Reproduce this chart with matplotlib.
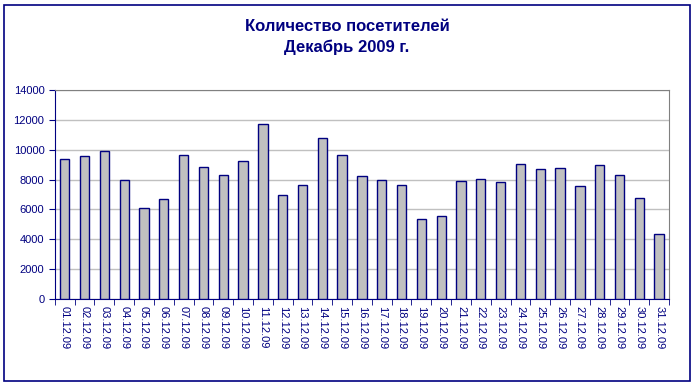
import matplotlib
matplotlib.use('Agg')
import matplotlib.pyplot as plt
import numpy as np
from matplotlib.patches import Rectangle

plt.rcParams['font.family'] = ['Liberation Sans', 'DejaVu Sans']

days = ['%02d.12.09' % d for d in range(1, 32)]
visitors = [9400, 9600, 9900, 8000, 6100, 6700, 9650, 8850, 8300, 9250,
            11700, 6950, 7650, 10800, 9650, 8250, 8000, 7650, 5350, 5550,
            7900, 8050, 7850, 9050, 8700, 8750, 7550, 8950, 8300, 6750, 4350]
yticks = [0, 2000, 4000, 6000, 8000, 10000, 12000, 14000]
title = 'Количество посетителей\nДекабрь 2009 г.'

navy = '#000080'

fig = plt.figure(figsize=(6.94, 3.86), dpi=100)
ax = fig.add_axes([0.079, 0.225, 0.885, 0.542])

x = np.arange(len(days))
ax.bar(x, visitors, width=0.47, color='#C0C0C0', edgecolor=navy, linewidth=1.0, zorder=3)

ax.set_xlim(-0.5, len(days) - 0.5)
ax.set_ylim(0, 14000)
ax.set_yticks(yticks)
ax.yaxis.grid(True, color='#C0C0C0', linewidth=1.0, zorder=0)
ax.set_axisbelow(True)

ax.set_xticks(x)
ax.set_xticklabels(days, rotation=-90, fontsize=8, color=navy)
ax.set_xticks(np.arange(-0.5, len(days)), minor=True)
ax.tick_params(axis='x', which='major', length=0, pad=5)
ax.tick_params(axis='x', which='minor', length=4, color=navy, direction='out')
ax.tick_params(axis='y', labelsize=8, labelcolor=navy, color=navy, length=4)

ax.spines['left'].set_color(navy)
ax.spines['bottom'].set_color(navy)
ax.spines['top'].set_color('#808080')
ax.spines['right'].set_color('#808080')

fig.text(0.5, 0.903, title, ha='center', va='center', fontsize=12,
         fontweight='bold', color=navy, linespacing=1.45)

fig.patches.append(Rectangle((4 / 694, 5 / 386), 686 / 694, 376 / 386,
                             transform=fig.transFigure, fill=False,
                             edgecolor=navy, linewidth=1.2))

fig.savefig('out.png', dpi=100)
